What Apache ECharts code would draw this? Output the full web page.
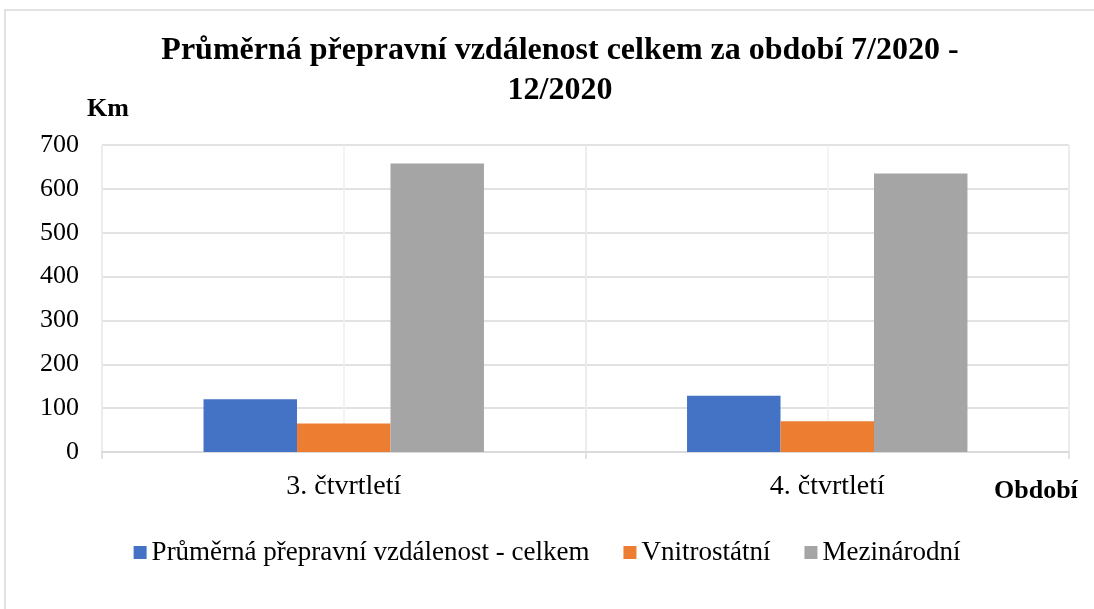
<!DOCTYPE html>
<html>
<head>
<meta charset="utf-8">
<script src="https://cdn.jsdelivr.net/npm/echarts@6/dist/echarts.min.js"></script>
<style>
html,body{margin:0;padding:0;background:#fff;}
#chart{width:1094px;height:609px;}
</style>
</head>
<body>
<div id="chart"></div>
<script>
var categories = ['3. čtvrtletí', '4. čtvrtletí'];
var seriesNames = ['Průměrná přepravní vzdálenost - celkem', 'Vnitrostátní', 'Mezinárodní'];
var celkem = [120, 128];
var vnitrostatni = [65, 70];
var mezinarodni = [658, 635];
var colors = ['#4472C4', '#ED7D31', '#A5A5A5'];
var titleText = 'Průměrná přepravní vzdálenost celkem za období 7/2020 -\n12/2020';
var yName = 'Km';
var xName = 'Období';

var serif = '"Liberation Serif", "Times New Roman", serif';
var chart = echarts.init(document.getElementById('chart'));
var values = [celkem, vnitrostatni, mezinarodni];
chart.setOption({
  animation: false,
  backgroundColor: '#fff',
  title: {
    text: titleText,
    left: 555,
    textAlign: 'center',
    top: 26,
    textStyle: {fontFamily: serif, fontWeight: 'bold', fontSize: 32, lineHeight: 40, color: '#000'}
  },
  legend: {
    data: seriesNames,
    top: 534,
    left: 'center',
    icon: 'rect',
    itemWidth: 13,
    itemHeight: 13,
    itemGap: 34,
    textStyle: {fontFamily: serif, fontSize: 27, color: '#000'}
  },
  grid: {left: 102, right: 25, top: 145, bottom: 157},
  xAxis: [{
    type: 'category',
    data: categories,
    axisLine: {lineStyle: {color: '#d9d9d9', width: 1.5}},
    axisTick: {show: true, length: 7, lineStyle: {color: '#d9d9d9', width: 1.5}},
    splitLine: {show: true, lineStyle: {color: '#d9d9d9', width: 1.5}},
    axisLabel: {fontFamily: serif, fontSize: 28, color: '#000', margin: 21}
  }, {
    type: 'value',
    min: 0, max: 4, interval: 1,
    position: 'bottom',
    axisLine: {show: false}, axisTick: {show: false}, axisLabel: {show: false},
    splitLine: {show: true, lineStyle: {color: '#efefef', width: 1.5}}
  }],
  yAxis: {
    type: 'value',
    min: 0, max: 700, interval: 100,
    axisLine: {show: false},
    axisTick: {show: false},
    splitLine: {lineStyle: {color: '#d9d9d9', width: 1.5}},
    axisLabel: {fontFamily: serif, fontSize: 26, color: '#000', margin: 23}
  },
  series: seriesNames.map(function (n, i) {
    return {
      name: n,
      type: 'bar',
      xAxisIndex: 0,
      data: values[i],
      barGap: '0%',
      barCategoryGap: '42%',
      itemStyle: {color: colors[i]}
    };
  }),
  graphic: [
    {type: 'rect', z: -10, shape: {x: 5, y: 10, width: 1200, height: 800}, style: {fill: 'none', stroke: '#d9d9d9', lineWidth: 1.5}},
    {type: 'text', left: 87, top: 96, style: {text: yName, font: 'bold 26px ' + serif, fill: '#000'}},
    {type: 'text', left: 994, top: 478, style: {text: xName, font: 'bold 26px ' + serif, fill: '#000'}}
  ]
});
</script>
</body>
</html>
